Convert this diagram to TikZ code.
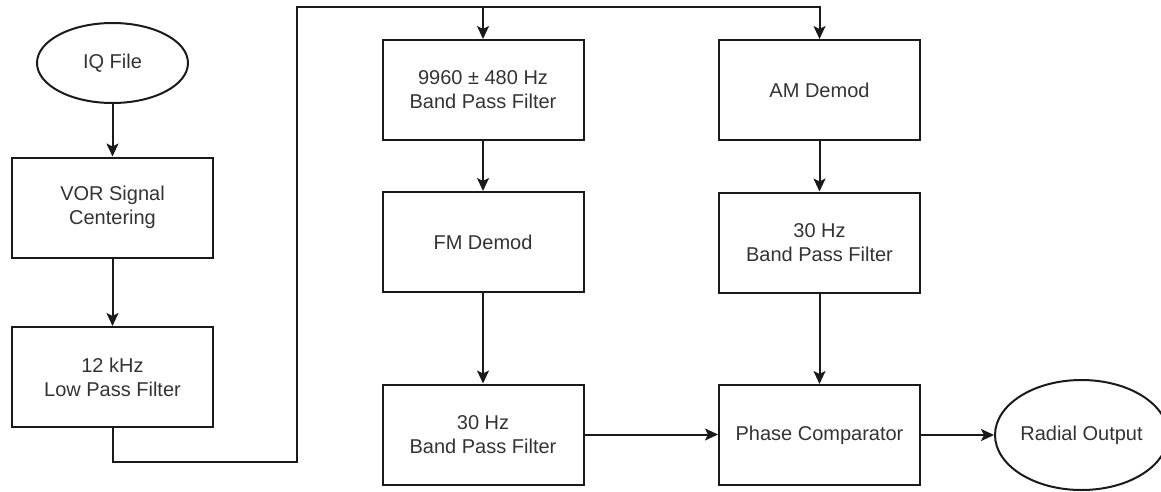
\documentclass[tikz,border=0pt]{standalone}
\usepackage{fontspec}
\setmainfont{Liberation Sans}
\usetikzlibrary{arrows.meta,shapes.geometric}
\definecolor{linec}{HTML}{1A1A1A}
\definecolor{textc}{HTML}{333333}
\tikzset{
  base/.style={draw=linec, line width=2pt, inner sep=0pt, text=textc, align=center,
    font=\fontsize{20}{24}\selectfont},
  box/.style={base, rectangle, minimum width=201pt, minimum height=100pt},
  oval/.style={base, ellipse},
  conn/.style={draw=linec, line width=2pt, -{Stealth[length=13pt, width=12pt, inset=3pt]}},
  wire/.style={draw=linec, line width=2pt}
}
\begin{document}
\begin{tikzpicture}[x=1pt, y=-1pt]
\useasboundingbox (0,0) rectangle (1161,491);
\node[oval, minimum width=151pt, minimum height=80pt] (iq) at (112.5,63) {IQ File};
\node[box] (vor) at (112.5,207.5) {VOR Signal\\Centering};
\node[box] (lpf) at (112.5,377) {12 kHz\\Low Pass Filter};
\node[box] (bpf1) at (483,90) {9960 ± 480 Hz\\Band Pass Filter};
\node[box] (fm) at (483,242) {FM Demod};
\node[box] (bpf2) at (483,434.5) {30 Hz\\Band Pass Filter};
\node[box] (am) at (819.5,90) {AM Demod};
\node[box] (bpf3) at (819.5,242.5) {30 Hz\\Band Pass Filter};
\node[box] (pc) at (819.5,435) {Phase Comparator};
\node[oval, minimum width=150pt, minimum height=110pt] (ro) at (1081.5,435) {Radial Output};
\coordinate (j1) at (297,462);
\coordinate (j2) at (297,7);
\draw[conn] (iq) -- (vor);
\draw[conn] (vor) -- (lpf);
\draw[conn] (lpf.south) |- (j1) -- (j2) -| (bpf1.north);
\draw[conn] (j2) -| (am.north);
\draw[conn] (bpf1) -- (fm);
\draw[conn] (fm) -- (bpf2);
\draw[conn] (am) -- (bpf3);
\draw[conn] (bpf3) -- (pc);
\draw[conn] (bpf2.east) -- (bpf2.east -| pc.west);
\draw[conn] (pc.east) -- (pc.east -| ro.west);
\end{tikzpicture}
\end{document}
